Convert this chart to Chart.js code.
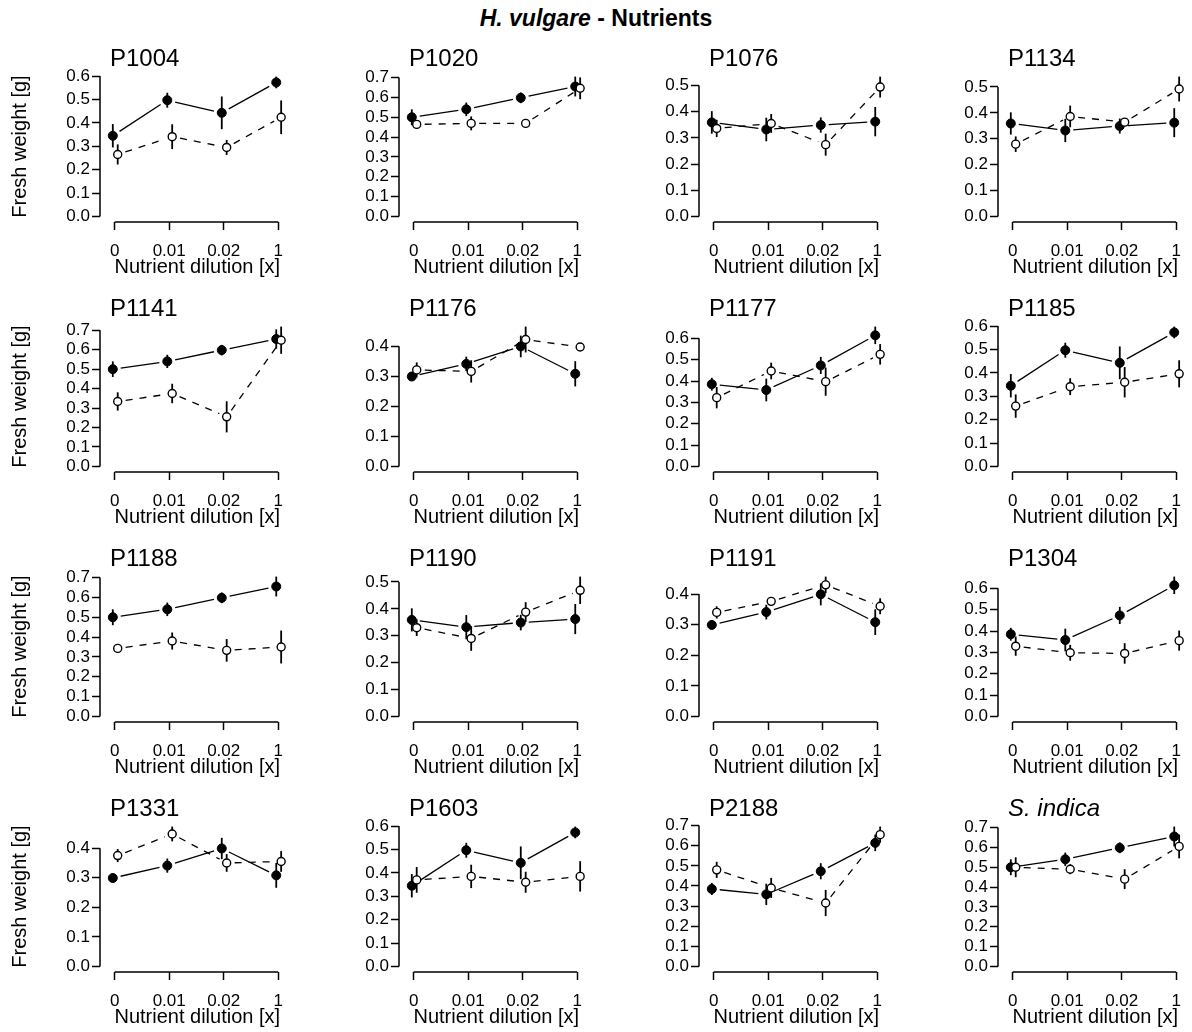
<!DOCTYPE html>
<html>
<head>
<meta charset="utf-8">
<title>H. vulgare - Nutrients</title>
<script src="https://cdn.jsdelivr.net/npm/chart.js@4.4.1/dist/chart.umd.min.js"></script>
<style>
  html, body { margin: 0; padding: 0; background: #fff; overflow: hidden; }
  #page { position: relative; width: 1192px; height: 1032px; overflow: hidden; }
  #main-title {
    position: absolute; left: 0; top: 5px; width: 1192px; text-align: center;
    font: bold 23px "Liberation Sans", Arial, Helvetica, sans-serif; color: #000;
  }
  .panel { position: absolute; width: 300px; height: 250px; }
</style>
</head>
<body>
<div id="page">
  <div id="main-title"><i>H. vulgare</i> - Nutrients</div>
</div>
<script>
// ------------------------------------------------------------
// Fresh weight vs nutrient dilution, one small panel per strain
// ------------------------------------------------------------
const FONT = '"Liberation Sans", Arial, Helvetica, sans-serif';

// dilution levels along the x axis
const dilutions = ['0', '0.01', '0.02', '1'];

const panelNames = [
  'P1004', 'P1020', 'P1076', 'P1134',
  'P1141', 'P1176', 'P1177', 'P1185',
  'P1188', 'P1190', 'P1191', 'P1304',
  'P1331', 'P1603', 'P2188', 'S. indica'
];

// solid series (filled dots), shared by panels of the same batch
const solidA = [0.500, 0.540, 0.598, 0.655];
const solidASe = [0.040, 0.034, 0.027, 0.050];
const solidB = [0.345, 0.497, 0.443, 0.573];
const solidBSe = [0.050, 0.032, 0.070, 0.025];
const solidC = [0.359, 0.332, 0.349, 0.362];
const solidCSe = [0.043, 0.045, 0.029, 0.056];
const solidD = [0.299, 0.341, 0.399, 0.308];
const solidDSe = [0.015, 0.024, 0.036, 0.042];
const solidE = [0.385, 0.358, 0.473, 0.614];
const solidESe = [0.030, 0.053, 0.040, 0.041];

// dashed series (open dots), one per strain
const p1004 = [0.265, 0.341, 0.295, 0.424];
const p1004Se = [0.043, 0.053, 0.032, 0.072];
const p1020 = [0.464, 0.469, 0.469, 0.646];
const p1020Se = [0.020, 0.035, 0.010, 0.055];
const p1076 = [0.336, 0.355, 0.274, 0.494];
const p1076Se = [0.033, 0.036, 0.042, 0.040];
const p1134 = [0.279, 0.386, 0.364, 0.492];
const p1134Se = [0.030, 0.042, 0.015, 0.048];
const p1141 = [0.334, 0.375, 0.255, 0.649];
const p1141Se = [0.047, 0.050, 0.080, 0.070];
const p1176 = [0.321, 0.316, 0.422, 0.397];
const p1176Se = [0.025, 0.037, 0.043, 0.013];
const p1177 = [0.322, 0.447, 0.397, 0.525];
const p1177Se = [0.050, 0.039, 0.066, 0.048];
const p1185 = [0.258, 0.341, 0.360, 0.396];
const p1185Se = [0.050, 0.036, 0.065, 0.058];
const p1188 = [0.343, 0.380, 0.333, 0.350];
const p1188Se = [0.022, 0.043, 0.057, 0.083];
const p1190 = [0.330, 0.290, 0.388, 0.469];
const p1190Se = [0.031, 0.046, 0.037, 0.051];
const p1191 = [0.340, 0.376, 0.430, 0.360];
const p1191Se = [0.020, 0.010, 0.027, 0.026];
const p1304 = [0.329, 0.298, 0.295, 0.355];
const p1304Se = [0.045, 0.037, 0.048, 0.047];
const p1331 = [0.375, 0.448, 0.350, 0.355];
const p1331Se = [0.022, 0.025, 0.030, 0.035];
const p1603 = [0.370, 0.385, 0.360, 0.385];
const p1603Se = [0.055, 0.050, 0.045, 0.065];
const p2188 = [0.480, 0.390, 0.315, 0.655];
const p2188Se = [0.040, 0.050, 0.065, 0.040];
const sIndica = [0.500, 0.490, 0.440, 0.605];
const sIndicaSe = [0.050, 0.025, 0.050, 0.060];

// which solid batch + dashed strain goes in each panel
const panels = [
  [solidB, solidBSe, p1004, p1004Se],
  [solidA, solidASe, p1020, p1020Se],
  [solidC, solidCSe, p1076, p1076Se],
  [solidC, solidCSe, p1134, p1134Se],
  [solidA, solidASe, p1141, p1141Se],
  [solidD, solidDSe, p1176, p1176Se],
  [solidE, solidESe, p1177, p1177Se],
  [solidB, solidBSe, p1185, p1185Se],
  [solidA, solidASe, p1188, p1188Se],
  [solidC, solidCSe, p1190, p1190Se],
  [solidD, solidDSe, p1191, p1191Se],
  [solidE, solidESe, p1304, p1304Se],
  [solidD, solidDSe, p1331, p1331Se],
  [solidB, solidBSe, p1603, p1603Se],
  [solidE, solidESe, p2188, p2188Se],
  [solidA, solidASe, sIndica, sIndicaSe]
];

const GAP = 8;          // line cut-back around each dot (base-graphics "b" style)
const SOLID_DX = -0.035;
const OPEN_DX = 0.055;

// Error bars, gapped connecting lines, R-like axis lines and the panel title
const rStyle = {
    id: 'rStyle',
    beforeDatasetsDraw: function (chart) {
        var ctx = chart.ctx, y = chart.scales.y;
        ctx.save();
        ctx.strokeStyle = '#000';
        chart.data.datasets.forEach(function (ds, di) {
            var pts = chart.getDatasetMeta(di).data;
            ctx.setLineDash([]);
            ctx.lineWidth = 1.8;
            ds.data.forEach(function (d, k) {
                ctx.beginPath();
                ctx.moveTo(pts[k].x, y.getPixelForValue(d.y - ds.se[k]));
                ctx.lineTo(pts[k].x, y.getPixelForValue(d.y + ds.se[k]));
                ctx.stroke();
            });
            ctx.lineWidth = 1.3;
            ctx.setLineDash(ds.dashed ? [7, 7] : []);
            for (var k = 1; k < pts.length; k++) {
                var a = pts[k - 1], b = pts[k];
                var dx = b.x - a.x, dy = b.y - a.y, len = Math.hypot(dx, dy);
                if (len <= 2 * GAP) continue;
                var ux = dx / len, uy = dy / len;
                ctx.beginPath();
                ctx.moveTo(a.x + ux * GAP, a.y + uy * GAP);
                ctx.lineTo(b.x - ux * GAP, b.y - uy * GAP);
                ctx.stroke();
            }
        });
        ctx.restore();
    },
    afterDraw: function (chart, args, opts) {
        var ctx = chart.ctx, x = chart.scales.x, y = chart.scales.y, area = chart.chartArea;
        var yt = y.ticks, xt = x.ticks;
        ctx.save();
        ctx.strokeStyle = '#000';
        ctx.lineWidth = 1.5;
        ctx.beginPath();
        ctx.moveTo(area.left, y.getPixelForValue(yt[0].value));
        ctx.lineTo(area.left, y.getPixelForValue(yt[yt.length - 1].value));
        ctx.moveTo(x.getPixelForValue(xt[0].value), area.bottom);
        ctx.lineTo(x.getPixelForValue(xt[xt.length - 1].value), area.bottom);
        ctx.stroke();

        ctx.fillStyle = '#000';
        ctx.font = (opts.italic ? 'italic ' : '') + '24px ' + FONT;
        ctx.textAlign = 'left';
        ctx.textBaseline = 'alphabetic';
        ctx.fillText(opts.text, area.left + 10, 36);
        ctx.restore();
    }
};

function upperLimit(vals, se) {
    return Math.max.apply(null, vals.map(function (v, k) { return v + se[k]; }));
}

function makePanel(i) {
    var row = Math.floor(i / 4), col = i % 4;
    var solid = panels[i][0], solidSe = panels[i][1];
    var open = panels[i][2], openSe = panels[i][3];

    var holder = document.createElement('div');
    holder.className = 'panel';
    holder.style.left = Math.round(col * 299.3) + 'px';
    holder.style.top = (30 + row * 250) + 'px';
    var canvas = document.createElement('canvas');
    canvas.width = 300;
    canvas.height = 250;
    holder.appendChild(canvas);
    document.getElementById('page').appendChild(holder);

    // y range: data range padded 4% each side, pretty ticks at 0.1
    var upper = Math.max(upperLimit(solid, solidSe), upperLimit(open, openSe));
    var yTicks = [];
    for (var t = 0; t <= upper * 1.04 + 1e-9; t += 0.1) yTicks.push(Math.round(t * 10) / 10);

    var axisFont = { family: FONT, size: 17 };
    var titleFont = { family: FONT, size: 20, lineHeight: 1.2 };

    new Chart(canvas, {
        type: 'scatter',
        data: {
            datasets: [{
                label: panelNames[i],
                data: open.map(function (v, k) { return { x: k + 1 + OPEN_DX, y: v }; }),
                se: openSe,
                dashed: true,
                pointRadius: 4,
                pointBackgroundColor: '#fff',
                pointBorderColor: '#000',
                pointBorderWidth: 1.4
            }, {
                label: 'reference',
                data: solid.map(function (v, k) { return { x: k + 1 + SOLID_DX, y: v }; }),
                se: solidSe,
                dashed: false,
                pointRadius: 4.5,
                pointBackgroundColor: '#000',
                pointBorderColor: '#000',
                pointBorderWidth: 1
            }]
        },
        options: {
            responsive: false,
            animation: false,
            events: [],
            layout: { padding: { top: 41, right: 0, bottom: 0, left: 0 } },
            plugins: {
                legend: { display: false },
                tooltip: { enabled: false },
                rStyle: { text: panelNames[i], italic: panelNames[i] === 'S. indica' }
            },
            scales: {
                x: {
                    type: 'linear',
                    min: 0.73,
                    max: 4.3,
                    afterBuildTicks: function (s) {
                        s.ticks = dilutions.map(function (d, k) { return { value: k + 1 }; });
                    },
                    afterFit: function (s) { s.height = 58; },
                    border: { display: false },
                    grid: { drawOnChartArea: false, tickLength: 8, tickWidth: 1.5, tickColor: '#000' },
                    ticks: {
                        color: '#000', font: axisFont, padding: 11,
                        maxRotation: 0, autoSkip: false,
                        callback: function (v) { return dilutions[Math.round(v) - 1]; }
                    },
                    title: {
                        display: true, text: 'Nutrient dilution [x]', color: '#000',
                        font: titleFont, padding: { top: 0, bottom: 1 }
                    }
                },
                y: {
                    min: -0.04 * upper,
                    max: 1.04 * upper,
                    afterBuildTicks: function (s) {
                        s.ticks = yTicks.map(function (v) { return { value: v }; });
                    },
                    afterFit: function (s) { s.width = 100; },
                    border: { display: false },
                    grid: { drawOnChartArea: false, tickLength: 8, tickWidth: 1.5, tickColor: '#000' },
                    ticks: {
                        color: '#000', font: axisFont, padding: 2, autoSkip: false,
                        callback: function (v) { return v.toFixed(1); }
                    },
                    title: {
                        display: col === 0, text: 'Fresh weight [g]', color: '#000',
                        font: titleFont, padding: { top: 8, bottom: 0 }
                    }
                }
            }
        },
        plugins: [rStyle]
    });
}

for (var i = 0; i < panels.length; i++) makePanel(i);
</script>
</body>
</html>
